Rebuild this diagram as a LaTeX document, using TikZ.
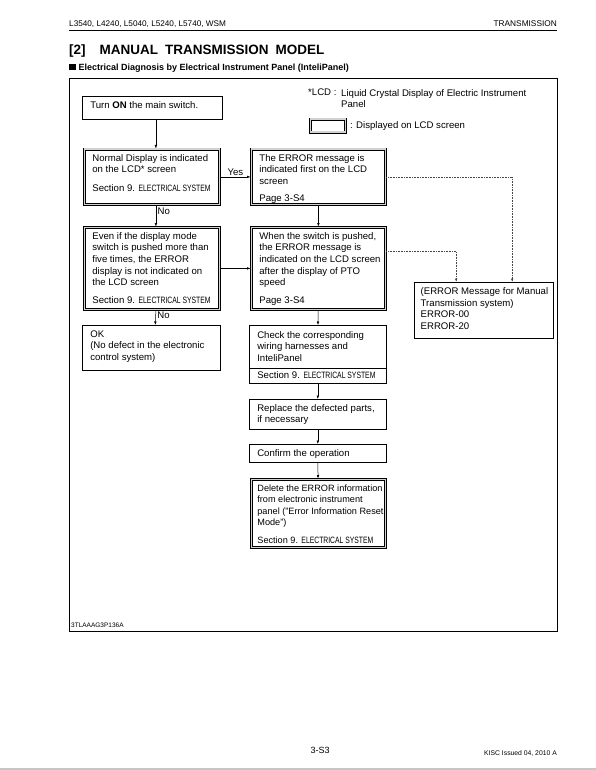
\documentclass[tikz,border=0pt]{standalone}
\usepackage{fontspec}
\setmainfont{Liberation Sans}
\usepackage{graphicx}
\usetikzlibrary{arrows.meta,positioning,shapes.multipart}

\newcommand{\fs}{\fontsize{9.6}{11.6}\selectfont}
\newcommand{\fsn}{\fontsize{9.15}{11.6}\selectfont}
\newcommand{\elsys}{Section 9. \scalebox{0.74}[1]{\fontsize{9.2}{10}\selectfont ELECTRICAL SYSTEM}}
\newcommand{\bt}[3]{\parbox[t][#1pt][t]{#2pt}{\fs #3}}
\newcommand{\rowtxt}[1]{\hbox to\hsize{#1\hss}}

\begin{document}
\begin{tikzpicture}[
    x=1pt, y=-1pt,
    box/.style={draw, line width=0.6pt, anchor=north west, inner xsep=8pt,
                inner ysep=5pt, font=\fs},
    dbox/.style={box, draw=gray!35, line width=1.8pt,
                 preaction={draw=black, line width=3pt}},
    arr/.style={-{Latex[length=3.5pt,width=2.6pt]}, line width=0.5pt},
    dots/.style={-{Latex[length=3.5pt,width=2.6pt]}, line width=0.6pt,
                 densely dotted, gray!55!black},
    lbl/.style={font=\fs, inner sep=1.5pt}
  ]
  \useasboundingbox[fill=white] (0,0) rectangle (596,770);

  % page head
  \node[anchor=base west, inner sep=0, font=\fontsize{8.2}{10}\selectfont] (hdl) at (69,27)
       {L3540, L4240, L5040, L5240, L5740, WSM};
  \node[anchor=base east, inner sep=0, font=\fontsize{8.3}{10}\selectfont] (hdr) at (557,27)
       {TRANSMISSION};
  \draw[line width=0.9pt] (69,30.5) -- (557,30.5);
  \node[anchor=base west, inner sep=0, font=\fontsize{13.5}{15}\bfseries] (title) at (69,55)
       {[2]\hspace{14pt}MANUAL\hspace{7pt}TRANSMISSION\hspace{7pt}MODEL};
  \node[anchor=base west, inner sep=0, font=\fontsize{9}{11}\bfseries] (sub) at (69,70.5)
       {\rule{6.5pt}{6.5pt}\hspace{3pt}Electrical Diagnosis by Electrical Instrument Panel (InteliPanel)};
  \draw[line width=0.8pt] (69,78) rectangle (557,631);

  % legend
  \node[anchor=north west, inner sep=0, font=\fs] (lcd) at (308,89) {*LCD :};
  \node[anchor=north west, inner sep=0, font=\fs, align=left] (lcdtxt) at (341,89)
       {Liquid Crystal Display of Electric Instrument\\Panel};
  \node[dbox, inner sep=0, minimum width=35pt, minimum height=13pt] (leg) at (309.5,118.5) {};
  \node[lbl, right=2pt of leg] (legtxt) {: Displayed on LCD screen};

  % left column
  \node[box] (turn) at (82,96)
       {\bt{13}{124}{\rowtxt{Turn \textbf{ON} the main switch.}}};
  \node[dbox] (normal) at (83.5,148.5)
       {\bt{45}{119}{\rowtxt{Normal Display is indicated}\rowtxt{on the LCD* screen}
        \vskip6.5pt\rowtxt{\elsys}}};
  \node[dbox] (evenif) at (83.5,226.5)
       {\bt{72}{119}{\rowtxt{Even if the display mode}\rowtxt{switch is pushed more than}
        \rowtxt{five times, the ERROR}\rowtxt{display is not indicated on}
        \rowtxt{the LCD screen}\vskip6.5pt\rowtxt{\elsys}}};
  \node[box] (ok) at (82,325)
       {\bt{35}{122}{\rowtxt{OK}\rowtxt{(No defect in the electronic}\rowtxt{control system)}}};

  % right column
  \node[dbox] (errfirst) at (250.5,148.5)
       {\bt{45}{118}{\rowtxt{The ERROR message is}\rowtxt{indicated first on the LCD}
        \rowtxt{screen}\vskip5.5pt\rowtxt{Page 3-S4}}};
  \node[dbox] (whensw) at (250.5,226.5)
       {\bt{72}{118}{\rowtxt{When the switch is pushed,}\rowtxt{the ERROR message is}
        \rowtxt{indicated on the LCD screen}\rowtxt{after the display of PTO}
        \rowtxt{speed}\vskip6.5pt\rowtxt{Page 3-S4}}};
  \node[box, rectangle split, rectangle split parts=2, inner ysep=3pt] (check) at (249,325)
       {\bt{36}{121}{\vspace*{2.5pt}\rowtxt{Check the corresponding}\rowtxt{wiring harnesses and}
        \rowtxt{InteliPanel}}
        \nodepart{two}\bt{9}{121}{\rowtxt{\elsys}}};
  \node[box] (replace) at (249,399)
       {\bt{20}{121}{\rowtxt{Replace the defected parts,}\rowtxt{if necessary}}};
  \node[box] (confirm) at (249,444)
       {\bt{8}{121}{\rowtxt{Confirm the operation}}};
  \node[dbox, inner xsep=6pt] (delete) at (250.5,478.5)
       {\bt{58}{122}{\fsn\rowtxt{Delete the ERROR information}\rowtxt{from electronic instrument}
        \rowtxt{panel ("Error Information Reset}\rowtxt{Mode")}\vskip6.5pt\rowtxt{\elsys}}};

  % error list
  \node[box, line width=1.4pt, inner xsep=6pt] (msg) at (414,282)
       {\bt{46}{127}{\rowtxt{(ERROR Message for Manual}\rowtxt{Transmission system)}
        \rowtxt{ERROR-00}\rowtxt{ERROR-20}}};

  % connectors
  \draw[arr] ([xshift=4pt]normal.north |- turn.south) -- ([xshift=4pt]normal.north);
  \draw[arr] (normal) -- node[lbl, above] {Yes} (errfirst);
  \draw[arr] ([xshift=4pt]normal.south) -- node[lbl, right, pos=0.3] {No} ([xshift=4pt]evenif.north);
  \draw[arr] ([xshift=4pt]evenif.south) -- node[lbl, right, pos=0.35] {No} ([xshift=4pt]ok.north);
  \draw[arr] (evenif) -- (whensw);
  \draw[arr] (errfirst) -- (whensw);
  \draw[arr] (whensw) -- (check);
  \draw[arr] (check) -- (replace);
  \draw[arr] (replace) -- (confirm);
  \draw[arr] (confirm) -- (delete);
  \draw[dots] (errfirst.east) -| ([xshift=28pt]msg.north);
  \draw[dots] ([yshift=17pt]whensw.east) -| ([xshift=-28pt]msg.north);

  % foot
  \node[anchor=base west, inner sep=0, font=\fontsize{6.5}{8}\selectfont] (code) at (71,627)
       {3TLAAAG3P136A};
  \node[anchor=base, inner sep=0, font=\fontsize{9}{11}\selectfont] (pg) at (320,753) {3-S3};
  \node[anchor=base east, inner sep=0, font=\fontsize{6.8}{8}\selectfont] (iss) at (557,755)
       {KISC Issued 04, 2010 A};
  \draw[gray!45, line width=2pt] (0,768.5) -- (596,768.5);
\end{tikzpicture}
\end{document}
